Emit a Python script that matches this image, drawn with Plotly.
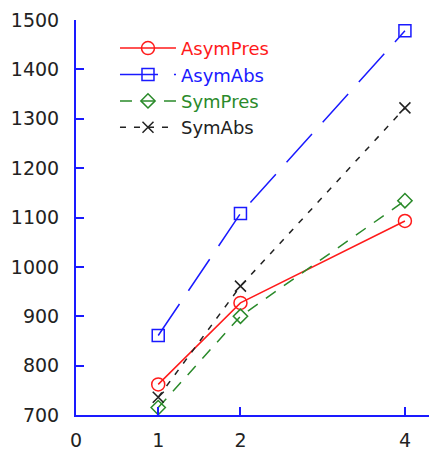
import plotly.graph_objects as go

x_vals = [1, 2, 4]
asym_pres = [762, 927, 1093]
asym_abs = [861, 1108, 1478]
sym_pres = [715, 900, 1134]
sym_abs = [736, 961, 1322]
x_ticks = [0, 1, 2, 4]
y_ticks = [700, 800, 900, 1000, 1100, 1200, 1300, 1400, 1500]

series = [
    ("AsymPres", asym_pres, "#ff1a1a", "solid", "circle-open", 13),
    ("AsymAbs", asym_abs, "#1a1aff", "38px,16px", "square-open", 12),
    ("SymPres", sym_pres, "#2a8a2a", "12px,10px", "diamond-open", 11),
    ("SymAbs", sym_abs, "#222222", "6px,8px", "x-thin-open", 11),
]

fig = go.Figure()
for name, ys, color, dash, sym, size in series:
    fig.add_trace(go.Scatter(
        x=x_vals, y=ys, mode="lines+markers",
        name=f"<span style='color:{color}'>{name}</span>",
        line=dict(color=color, width=1.5, dash=dash),
        marker=dict(symbol=sym, size=size, color=color, line=dict(color=color, width=1.5)),
    ))

axis_common = dict(
    showline=True, linecolor="#1a1aff", linewidth=2,
    ticks="inside", tickcolor="#1a1aff", tickwidth=2, ticklen=8,
    showgrid=False, zeroline=False, automargin=False,
    tickfont=dict(family="DejaVu Sans", size=19, color="#222222"),
)

# page body has an 8px default margin, so the figure is sized/offset to compensate
fig.update_layout(
    width=429, height=442,
    margin=dict(l=68, r=0, t=12, b=35),
    paper_bgcolor="white", plot_bgcolor="white",
    showlegend=True,
    legend=dict(x=0.108, y=0.975, xanchor="left", yanchor="top",
                bgcolor="rgba(0,0,0,0)", font=dict(family="DejaVu Sans", size=18),
                tracegroupgap=0, itemwidth=56),
    xaxis=dict(range=[0, 4.39], tickvals=x_ticks, ticktext=[str(v) for v in x_ticks],
               ticklabelstandoff=7, **axis_common),
    yaxis=dict(range=[700, 1500], tickvals=y_ticks, ticktext=[str(v) for v in y_ticks],
               ticklabelstandoff=11, **axis_common),
)

fig.write_html("out.html")
